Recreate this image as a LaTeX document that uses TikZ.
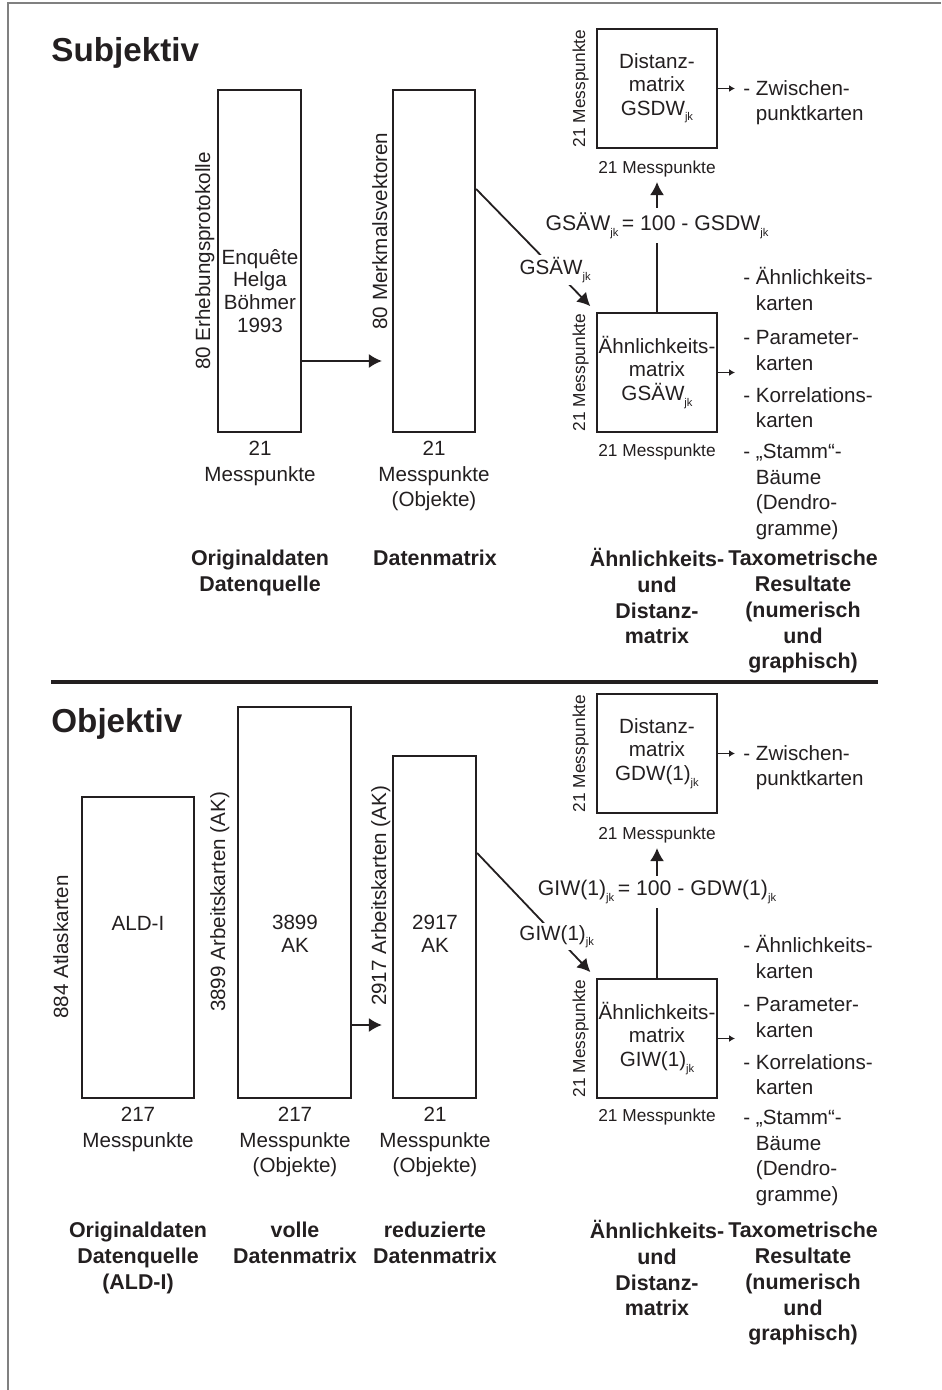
\documentclass[tikz,border=0pt]{standalone}
\usepackage{fontspec}
\setmainfont{Liberation Sans}
\usetikzlibrary{arrows.meta,positioning}
\definecolor{ink}{RGB}{35,31,32}
\newcommand\ix[1]{\raisebox{-0.55ex}{\fontsize{5.6}{6}\selectfont #1}}
\tikzset{
  box/.style={draw=ink, line width=1.1pt, inner sep=0pt, text=ink, align=center, font=\fontsize{10.3}{11.6}\selectfont},
  txt/.style={inner sep=0pt, text=ink, align=center, font=\fontsize{10.3}{12.75}\selectfont},
  sml/.style={inner sep=0pt, text=ink, font=\fontsize{8.65}{10}\selectfont},
  hd/.style={inner sep=0pt, text=ink, align=center, anchor=north, font=\bfseries\fontsize{10.7}{12.85}\selectfont},
  ttl/.style={inner sep=0pt, text=ink, anchor=base west, font=\bfseries\fontsize{16.6}{20}\selectfont},
  itm/.style={txt, align=left, anchor=north west},
  rot/.style={rotate=90, anchor=base},
  arr/.style={draw=ink, line width=0.9pt, -{Latex[length=6.5pt,width=7pt]}},
  sarr/.style={draw=ink, line width=0.8pt, shorten >=4pt, -{Latex[length=3pt,width=3.5pt]}},
}
\begin{document}
\begin{tikzpicture}[x=0.5pt, y=-0.5pt]
\useasboundingbox (0,0) rectangle (941,1390);
\draw[gray, line width=1pt] (8,1390) -- (8,3) -- (941,3);

% Subjektiv
\node[ttl] (subj) at (51,62) {Subjektiv};
\node[box, minimum width=41.5pt, minimum height=171pt] (enq) at (259.5,261) {};
\node[box, minimum width=41pt, minimum height=171pt] (dm) at (434,261) {};
\node[txt, font=\fontsize{10.3}{11.4}\selectfont] (enqtxt) at (260,291) {Enquête\\Helga\\Böhmer\\1993};
\node[txt, rot] (erh) at (210,261) {80 Erhebungsprotokolle};
\node[txt, rot] (mkv) at (387,231) {80 Merkmalsvektoren};
\node[txt, anchor=north] (enqms) at (260,441) {21\\Messpunkte};
\node[txt, anchor=north] (dmms) at (434,441) {21\\Messpunkte\\(Objekte)};

\node[box, minimum width=60pt, minimum height=59.5pt] (dist) at (657,88.5) {Distanz-\\matrix\\GSDW\ix{jk}};
\node[box, minimum width=60pt, minimum height=59.5pt] (aehn) at (657,372.5) {Ähnlichkeits-\\matrix\\GSÄW\ix{jk}};
\node[sml, rot] (distrot) at (585,88.5) {21 Messpunkte};
\node[sml, rot] (aehnrot) at (585,372.5) {21 Messpunkte};
\node[sml, below=5.5pt of dist] (distms) {21 Messpunkte};
\node[sml, below=5pt of aehn] (aehnms) {21 Messpunkte};

\node[itm] (zw) at (743,80) {- Zwischen-\\\hphantom{- }punktkarten};
\node[itm] (ahk) at (743,267) {- Ähnlichkeits-\\\hphantom{- }karten};
\node[itm] (par) at (743,330) {- Parameter-\\\hphantom{- }karten};
\node[itm] (kor) at (743,387) {- Korrelations-\\\hphantom{- }karten};
\node[itm] (stm) at (743,444) {- „Stamm“-\\\hphantom{- }Bäume\\\hphantom{- }(Dendro-\\\hphantom{- }gramme)};

\draw[arr, shorten >=5pt] ([yshift=-50pt]enq.east) -- ([yshift=-50pt]dm.west);
\draw[arr, shorten >=4pt] ([yshift=36pt]dm.east) -- node[txt, fill=white, inner sep=1pt, pos=0.66] (gsaw) {GSÄW\ix{jk}} (aehn.north west);
\draw[arr, shorten >=2.5pt] (aehn.north) -- node[txt, fill=white, inner sep=2pt, pos=0.64, font=\fontsize{10.6}{12}\selectfont] (gform) {GSÄW\ix{jk}\,= 100 - GSDW\ix{jk}} (distms.south);
\draw[sarr] (dist.east) -- (dist.east -| zw.west);
\draw[sarr] (aehn.east) -- (aehn.east -| par.west);

\node[hd] (hd1) at (260,550) {Originaldaten\\Datenquelle};
\node[hd] (hd2) at (435,550) {Datenmatrix};
\node[hd] (hd3) at (657,548) {Ähnlichkeits-\\und\\Distanz-\\matrix};
\node[hd] (hd4) at (803,550) {Taxometrische\\Resultate\\(numerisch\\und\\graphisch)};

\draw[ink, line width=2pt] (51,682) -- (878,682);

% Objektiv
\node[ttl] (obj) at (51,732) {Objektiv};
\node[box, minimum width=56pt, minimum height=150.5pt] (ald) at (138,947.5) {};
\node[box, minimum width=56.5pt, minimum height=195.5pt] (voll) at (294.5,902.5) {};
\node[box, minimum width=41.5pt, minimum height=171pt] (red) at (434.5,927) {};
\node[txt] (aldtxt) at (138,923) {ALD-I};
\node[txt, font=\fontsize{10.3}{11.5}\selectfont] (volltxt) at (295,933.5) {3899\\AK};
\node[txt, font=\fontsize{10.3}{11.5}\selectfont] (redtxt) at (435,933.5) {2917\\AK};
\node[txt, rot] (atl) at (68,947) {884 Atlaskarten};
\node[txt, rot] (ak1) at (225,902) {3899 Arbeitskarten (AK)};
\node[txt, rot] (ak2) at (386,896) {2917 Arbeitskarten (AK)};
\node[txt, anchor=north] (aldms) at (138,1107) {217\\Messpunkte};
\node[txt, anchor=north] (vollms) at (295,1107) {217\\Messpunkte\\(Objekte)};
\node[txt, anchor=north] (redms) at (435,1107) {21\\Messpunkte\\(Objekte)};

\node[box, minimum width=60pt, minimum height=59.5pt] (dist2) at (657,753.5) {Distanz-\\matrix\\GDW(1)\ix{jk}};
\node[box, minimum width=60pt, minimum height=59.5pt] (aehn2) at (657,1038.5) {Ähnlichkeits-\\matrix\\GIW(1)\ix{jk}};
\node[sml, rot] (dist2rot) at (585,753.5) {21 Messpunkte};
\node[sml, rot] (aehn2rot) at (585,1038.5) {21 Messpunkte};
\node[sml, below=6pt of dist2] (distms2) {21 Messpunkte};
\node[sml, below=4.5pt of aehn2] (aehnms2) {21 Messpunkte};

\node[itm] (zw2) at (743,745) {- Zwischen-\\\hphantom{- }punktkarten};
\node[itm] (ahk2) at (743,935) {- Ähnlichkeits-\\\hphantom{- }karten};
\node[itm] (par2) at (743,997) {- Parameter-\\\hphantom{- }karten};
\node[itm] (kor2) at (743,1054) {- Korrelations-\\\hphantom{- }karten};
\node[itm] (stm2) at (743,1110) {- „Stamm“-\\\hphantom{- }Bäume\\\hphantom{- }(Dendro-\\\hphantom{- }gramme)};

\coordinate (vr) at ([yshift=-61.25pt]voll.east);
\draw[arr, shorten >=5pt] (vr) -- (vr -| red.west);
\draw[arr, shorten >=4pt] ([yshift=37pt]red.east) -- node[txt, fill=white, inner sep=1pt, pos=0.67] (giw) {GIW(1)\ix{jk}} (aehn2.north west);
\draw[arr, shorten >=2.5pt] (aehn2.north) -- node[txt, fill=white, inner sep=2pt, pos=0.64, font=\fontsize{10.6}{12}\selectfont] (gform2) {GIW(1)\ix{jk}\,= 100 - GDW(1)\ix{jk}} (distms2.south);
\draw[sarr] (dist2.east) -- (dist2.east -| zw2.west);
\draw[sarr] (aehn2.east) -- (aehn2.east -| par2.west);

\node[hd] (hd5) at (138,1222) {Originaldaten\\Datenquelle\\(ALD-I)};
\node[hd] (hd6) at (295,1222) {volle\\Datenmatrix};
\node[hd] (hd7) at (435,1222) {reduzierte\\Datenmatrix};
\node[hd] (hd8) at (657,1220) {Ähnlichkeits-\\und\\Distanz-\\matrix};
\node[hd] (hd9) at (803,1222) {Taxometrische\\Resultate\\(numerisch\\und\\graphisch)};
\end{tikzpicture}
\end{document}
